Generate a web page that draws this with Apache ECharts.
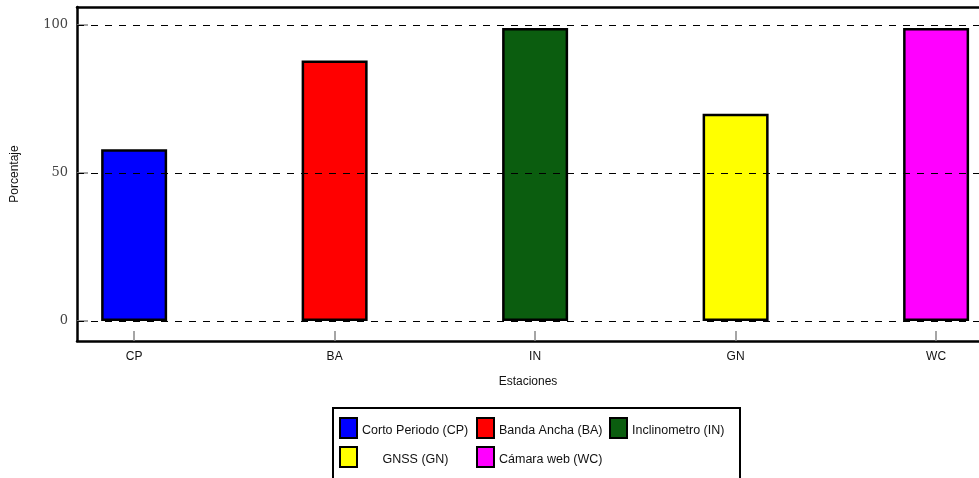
<!DOCTYPE html>
<html>
<head>
<meta charset="utf-8">
<script src="https://cdn.jsdelivr.net/npm/echarts@6/dist/echarts.min.js"></script>
<style>
  html, body { margin: 0; padding: 0; background: #fff; }
  #chart { width: 979px; height: 478px; }
</style>
</head>
<body>
<div id="chart"></div>
<script>
// Stations, their positions on the x scale, and availability (%)
const stationCodes = ['CP', 'BA', 'IN', 'GN', 'WC'];
const stationNames = ['Corto Periodo (CP)', 'Banda Ancha (BA)', 'Inclinometro (IN)', 'GNSS (GN)', 'Cámara web (WC)'];
const stationPos = [1, 2, 3, 4, 5];
const percentages = [58, 88, 99, 70, 99];
const barColors = ['#0000ff', '#ff0000', '#0b5d0f', '#ffff00', '#ff00ff'];
const yTicks = [0, 50, 100];

const sansFont = 'Liberation Sans';

const chart = echarts.init(document.getElementById('chart'), null, { renderer: 'canvas' });

const series = stationNames.map((name, i) => ({
  name: name,
  type: 'bar',
  barWidth: 66,
  barGap: '-100%',
  data: [[stationPos[i], percentages[i]]],
  itemStyle: { color: barColors[i], borderColor: '#000', borderWidth: 2.5 },
  emphasis: { disabled: true },
  animation: false
}));

// Dashed horizontal reference lines
series.push({
  type: 'line',
  data: [],
  silent: true,
  markLine: {
    symbol: 'none',
    silent: true,
    label: { show: false },
    lineStyle: { color: '#000', type: [7, 7], width: 1 },
    data: yTicks.map(v => ({ yAxis: v }))
  }
});

// Legend laid out as a 3-column grid
const legendSlots = [
  { left: 339, top: 417 },
  { left: 476, top: 417 },
  { left: 609, top: 417 },
  { left: 339, top: 446 },
  { left: 476, top: 446 }
];
const legendText = { fontFamily: sansFont, fontSize: 12.5, color: '#111' };
const legends = stationNames.map((name, i) => ({
  data: [name],
  left: legendSlots[i].left,
  top: legendSlots[i].top,
  padding: 0,
  itemWidth: 17,
  itemHeight: 20,
  itemGap: 5,
  selectedMode: false,
  icon: 'rect',
  itemStyle: { borderColor: '#000', borderWidth: 2 },
  formatter: '{c|{name}}',
  textStyle: Object.assign({}, legendText, {
    rich: {
      c: Object.assign({ padding: [5, 0, 0, 0] }, legendText,
        i === 3 ? { width: 107, align: 'center' } : {})
    }
  })
}));

chart.setOption({
  backgroundColor: '#fff',
  animation: false,
  grid: { left: 77, top: 7, right: 0, height: 334 },
  xAxis: [{
    type: 'value',
    min: 0.715,
    max: 5.214,
    name: 'Estaciones',
    nameLocation: 'middle',
    nameGap: 35,
    nameTextStyle: { fontFamily: sansFont, fontSize: 12, color: '#111' },
    axisLine: { show: true, onZero: false, lineStyle: { color: '#000', width: 2.5 } },
    axisTick: { show: true, inside: true, length: 10, customValues: stationPos, lineStyle: { color: '#888', width: 1.5 } },
    axisLabel: {
      customValues: stationPos,
      margin: 10,
      fontFamily: sansFont, fontSize: 12, color: '#111',
      formatter: v => stationCodes[stationPos.indexOf(Math.round(v))] || ''
    },
    splitLine: { show: false }
  }, {
    // top edge of the plot frame
    type: 'value',
    position: 'top',
    min: 0.715,
    max: 5.214,
    axisLine: { show: true, onZero: false, lineStyle: { color: '#000', width: 2.5 } },
    axisTick: { show: false },
    axisLabel: { show: false },
    splitLine: { show: false }
  }],
  yAxis: {
    type: 'value',
    min: -6.8,
    max: 106.1,
    name: 'Porcentaje',
    nameLocation: 'middle',
    nameGap: 56,
    nameRotate: 90,
    nameTextStyle: { fontFamily: sansFont, fontSize: 12, color: '#111' },
    axisLine: { show: true, onZero: false, lineStyle: { color: '#000', width: 2.5 } },
    axisTick: { show: true, inside: true, length: 11, customValues: yTicks, lineStyle: { color: '#888', width: 1.5 } },
    axisLabel: {
      customValues: yTicks,
      margin: 9,
      fontFamily: 'DejaVu Serif', fontSize: 13, color: '#444'
    },
    splitLine: { show: false }
  },
  legend: legends,
  graphic: [{
    type: 'rect',
    shape: { x: 333, y: 408, width: 407, height: 90 },
    style: { fill: 'none', stroke: '#000', lineWidth: 2 },
    silent: true
  }],
  series: series
});
</script>
</body>
</html>
